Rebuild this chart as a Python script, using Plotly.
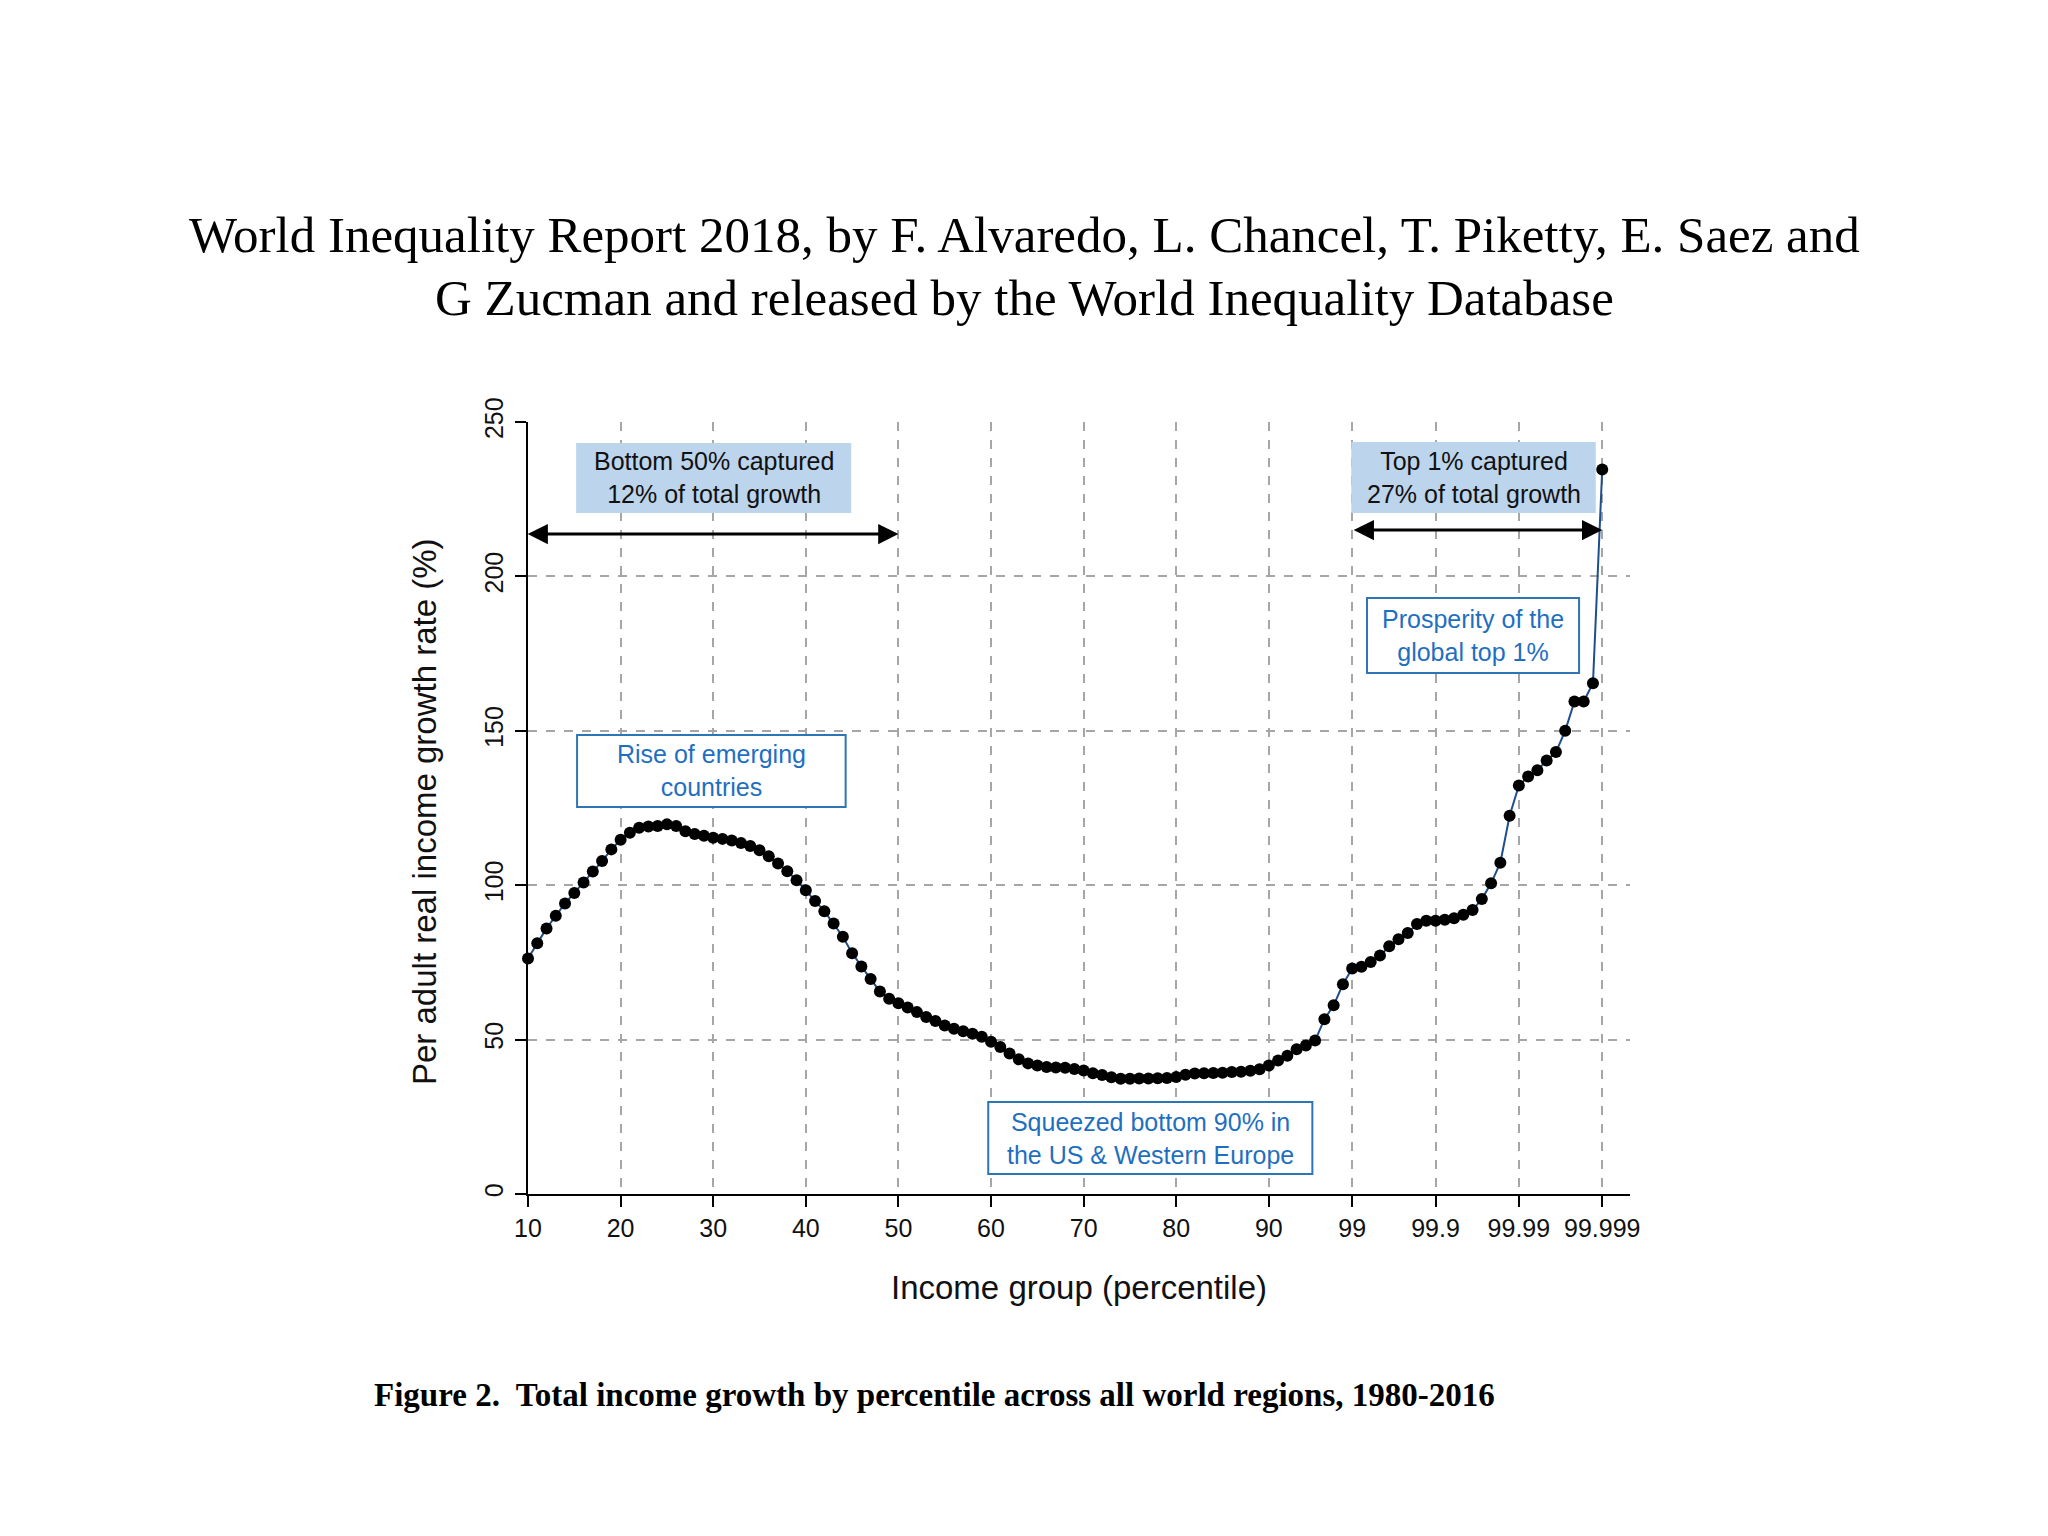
import plotly.graph_objects as go

# ---------------- data ----------------
pct_main = list(range(10, 100))  # percentiles 10..99
pct_top = [99.1, 99.2, 99.3, 99.4, 99.5, 99.6, 99.7, 99.8, 99.9,
           99.91, 99.92, 99.93, 99.94, 99.95, 99.96, 99.97, 99.98, 99.99,
           99.991, 99.992, 99.993, 99.994, 99.995, 99.996, 99.997, 99.998, 99.999]
percentiles = pct_main + pct_top

growth = [
    76.3, 81.2, 86.0, 90.1, 94.1, 97.5, 100.9, 104.4, 107.8, 111.6,   # 10-19
    114.7, 117.0, 118.6, 119.0, 119.2, 119.7, 119.2, 117.5, 116.6, 116.0,  # 20-29
    115.4, 115.0, 114.5, 113.7, 112.7, 111.3, 109.4, 107.0, 104.5, 101.6,  # 30-39
    98.4, 94.9, 91.6, 87.6, 83.3, 78.0, 73.7, 69.6, 65.6, 63.2,    # 40-49
    61.8, 60.4, 58.9, 57.3, 56.0, 54.6, 53.5, 52.7, 51.9, 50.9,    # 50-59
    49.3, 47.6, 45.5, 43.6, 42.3, 41.6, 41.1, 41.0, 40.9, 40.5,    # 60-69
    40.0, 39.1, 38.5, 37.8, 37.3, 37.3, 37.4, 37.4, 37.5, 37.6,    # 70-79
    37.9, 38.6, 39.0, 39.1, 39.2, 39.3, 39.5, 39.6, 39.9, 40.4,    # 80-89
    41.6, 43.2, 44.8, 46.9, 48.1, 49.7, 56.6, 61.1, 67.9, 73.0,    # 90-99
    73.6, 75.1, 77.2, 80.2, 82.5, 84.5, 87.4, 88.5, 88.5,          # 99.1-99.9
    88.8, 89.3, 90.4, 92.0, 95.5, 100.6, 107.3, 122.5, 132.3,      # 99.91-99.99
    135.2, 137.2, 140.4, 143.1, 150.0, 159.5, 159.5, 165.4, 234.6, # 99.991-99.999
]

tick_labels = ["10", "20", "30", "40", "50", "60", "70", "80", "90",
               "99", "99.9", "99.99", "99.999"]
tick_percentiles = [10, 20, 30, 40, 50, 60, 70, 80, 90, 99, 99.9, 99.99, 99.999]
y_ticks = [0, 50, 100, 150, 200, 250]

# position on the (piecewise) axis: one unit per listed group
pos_of = {p: i + 10 for i, p in enumerate(percentiles)}
x_pos = [pos_of[p] for p in percentiles]
tick_pos = [pos_of[p] for p in tick_percentiles]

# ---------------- layout geometry (page pixels; page has an 8px body margin) ----------------
OFF = 8
W, H = 2048 - OFF, 1536 - OFF
L, R, T, B = 528, 1630, 422, 1194  # plot area in page pixels


def px(x):
    return (x - L) / (R - L)


def py(y):
    return (B - y) / (B - T)


SANS = "Liberation Sans, Arial, sans-serif"
SERIF = "Liberation Serif, Times New Roman, serif"
BOX_FILL = "#bcd4ec"
BLUE_LINE = "#2e75b6"
BLUE_TEXT = "#1f6fc1"

fig = go.Figure()
fig.add_trace(go.Scatter(
    x=x_pos, y=growth, mode="lines+markers",
    line=dict(color="#1f4e8c", width=2),
    marker=dict(color="black", size=12),
    cliponaxis=False, showlegend=False,
))

shapes = [
    dict(type="rect", xref="x", yref="y", x0=15.2, x1=44.9, y0=220.5, y1=243.2,
         fillcolor=BOX_FILL, line=dict(width=0), layer="between"),
    dict(type="rect", xref="x", yref="y", x0=98.9, x1=125.3, y0=220.5, y1=243.5,
         fillcolor=BOX_FILL, line=dict(width=0), layer="between"),
    dict(type="rect", xref="x", yref="y", x0=100.6, x1=123.5, y0=168.7, y1=193.0,
         fillcolor="white", line=dict(color=BLUE_LINE, width=2), layer="between"),
    dict(type="rect", xref="x", yref="y", x0=15.3, x1=44.3, y0=125.3, y1=148.6,
         fillcolor="white", line=dict(color=BLUE_LINE, width=2), layer="between"),
    dict(type="rect", xref="x", yref="y", x0=59.7, x1=94.7, y0=6.5, y1=29.8,
         fillcolor="white", line=dict(color=BLUE_LINE, width=2), layer="between"),
]

annotations = [
    # title (two lines)
    dict(xref="paper", yref="paper", x=px(1024), y=py(235), xanchor="center", yanchor="middle",
         text="World Inequality Report 2018, by F. Alvaredo, L. Chancel, T. Piketty, E. Saez and",
         showarrow=False, font=dict(family=SERIF, size=51, color="black")),
    dict(xref="paper", yref="paper", x=px(1024), y=py(298), xanchor="center", yanchor="middle",
         text="G Zucman and released by the World Inequality Database",
         showarrow=False, font=dict(family=SERIF, size=51, color="black")),
    # caption
    dict(xref="paper", yref="paper", x=px(372), y=py(1395), xanchor="left", yanchor="middle",
         text="<b>Figure 2.\u00a0 Total income growth by percentile across all world regions, 1980-2016</b>",
         showarrow=False, font=dict(family=SERIF, size=33, color="black")),
    # axis titles
    dict(xref="paper", yref="paper", x=px(1079), y=py(1287), xanchor="center", yanchor="middle",
         text="Income group (percentile)", showarrow=False,
         font=dict(family=SANS, size=33, color="#111")),
    dict(xref="paper", yref="paper", x=px(424), y=py(812), xanchor="center", yanchor="middle",
         text="Per adult real income growth rate (%)", textangle=-90, showarrow=False,
         font=dict(family=SANS, size=33, color="#111")),
    # box texts
    dict(xref="x", yref="y", x=30.05, y=231.9, text="Bottom 50% captured<br>12% of total growth",
         showarrow=False, font=dict(family=SANS, size=25, color="#111")),
    dict(xref="x", yref="y", x=112.1, y=232.0, text="Top 1% captured<br>27% of total growth",
         showarrow=False, font=dict(family=SANS, size=25, color="#111")),
    dict(xref="x", yref="y", x=112.05, y=180.9, text="Prosperity of the<br>global top 1%",
         showarrow=False, font=dict(family=SANS, size=25, color=BLUE_TEXT)),
    dict(xref="x", yref="y", x=29.8, y=137.0, text="Rise of emerging<br>countries",
         showarrow=False, font=dict(family=SANS, size=25, color=BLUE_TEXT)),
    dict(xref="x", yref="y", x=77.2, y=18.1, text="Squeezed bottom 90% in<br>the US &amp; Western Europe",
         showarrow=False, font=dict(family=SANS, size=25, color=BLUE_TEXT)),
    # double arrows
    dict(xref="x", yref="y", axref="x", ayref="y", x=50, y=213.7, ax=9.8, ay=213.7,
         text="", showarrow=True, arrowside="end+start", arrowhead=2, arrowsize=1.35,
         arrowwidth=3, arrowcolor="black", standoff=0, startstandoff=0),
    dict(xref="x", yref="y", axref="x", ayref="y", x=126, y=215, ax=99, ay=215,
         text="", showarrow=True, arrowside="end+start", arrowhead=2, arrowsize=1.35,
         arrowwidth=3, arrowcolor="black", standoff=0, startstandoff=0),
]

fig.update_layout(
    width=W, height=H, autosize=False,
    margin=dict(l=L - OFF, r=W - (R - OFF), t=T - OFF, b=H - (B - OFF), pad=0),
    paper_bgcolor="white", plot_bgcolor="white",
    shapes=shapes, annotations=annotations,
    font=dict(family=SANS, color="#111"),
    xaxis=dict(
        range=[10, 129], tickmode="array", tickvals=tick_pos, ticktext=tick_labels,
        showline=True, linecolor="black", linewidth=2,
        ticks="outside", ticklen=11, tickwidth=2, tickcolor="black",
        showgrid=True, gridcolor="#a6a6a6", griddash="dash", gridwidth=1.5,
        zeroline=False, tickfont=dict(family=SANS, size=25, color="#111"),
        fixedrange=True,
    ),
    yaxis=dict(
        range=[0, 250], tickmode="array", tickvals=y_ticks,
        ticktext=[str(v) for v in y_ticks], tickangle=-90,
        showline=True, linecolor="black", linewidth=2,
        ticks="outside", ticklen=11, tickwidth=2, tickcolor="black",
        showgrid=True, gridcolor="#a6a6a6", griddash="dash", gridwidth=1.5,
        zeroline=False, tickfont=dict(family=SANS, size=25, color="#111"),
        ticklabelstandoff=2, fixedrange=True,
    ),
)

fig.write_html("out.html")
